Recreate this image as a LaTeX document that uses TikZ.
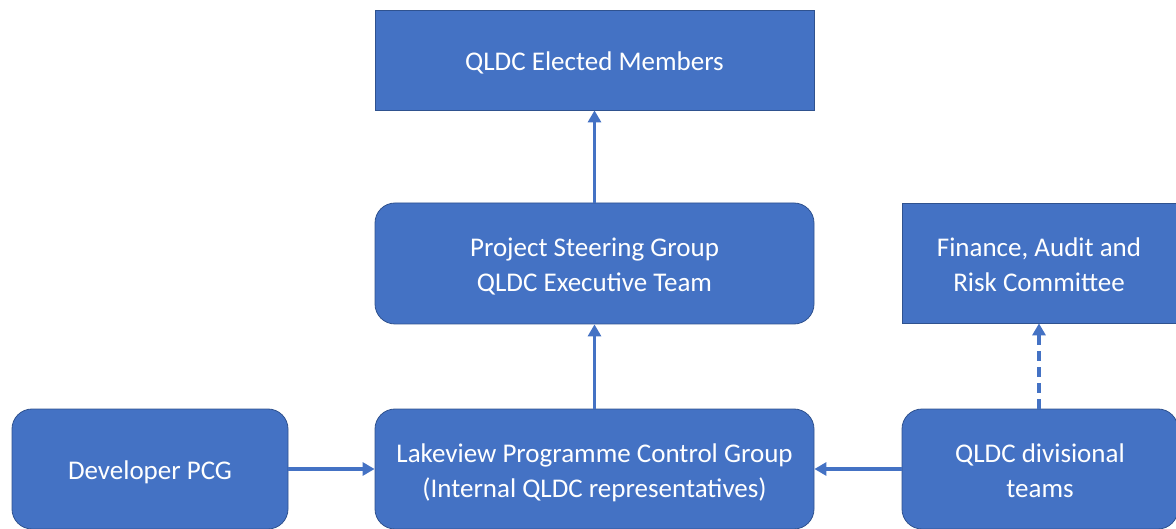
\documentclass[tikz,border=0pt]{standalone}
\usepackage{fontspec}
\setmainfont{Carlito}
\usetikzlibrary{arrows.meta}
\definecolor{boxblue}{HTML}{4472C4}
\definecolor{boxedge}{HTML}{2F528F}
\begin{document}
\begin{tikzpicture}[x=1pt,y=-1pt,
  box/.style={fill=boxblue,draw=boxedge,line width=0.8pt,inner sep=0pt},
  rbox/.style={box,rounded corners=20pt},
  txt/.style={text=white,align=center,inner sep=0pt,font=\fontsize{27}{35}\selectfont},
  arr/.style={draw=boxblue,line width=3.8pt,-{Triangle[length=12pt,width=13pt]}},
  darr/.style={arr,dash pattern=on 10pt off 6pt}]
\useasboundingbox (0,0) rectangle (1176,529);
\clip (0,0) rectangle (1176,529);
\node[box,minimum width=439pt,minimum height=100pt] (elected) at (594.5,60) {};
\node[rbox,minimum width=439pt,minimum height=121pt] (psg) at (594.5,263.5) {};
\node[box,minimum width=274pt,minimum height=120pt] (fin) at (1039,263) {};
\node[rbox,minimum width=276pt,minimum height=120pt] (dev) at (150,469) {};
\node[rbox,minimum width=439pt,minimum height=120pt] (lake) at (594.5,469) {};
\node[rbox,minimum width=276pt,minimum height=120pt] (div) at (1040,469) {};
\node[txt] (electedT) at ([yshift=-3pt]elected.center) {QLDC Elected Members};
\node[txt] (psgT) at ([yshift=-3pt]psg.center) {Project Steering Group\\QLDC Executive Team};
\node[txt] (finT) at ([yshift=-2pt]fin.center) {Finance, Audit and\\Risk Committee};
\node[txt] (devT) at ([yshift=-3pt]dev.center) {Developer PCG};
\node[txt] (lakeT) at ([yshift=-4pt]lake.center) {Lakeview Programme Control Group\\(Internal QLDC representatives)};
\node[txt] (divT) at ([yshift=-2pt]div.center) {QLDC divisional\\teams};
\draw[arr] (psg.north) -- (elected.south);
\draw[arr] (lake.north) -- (psg.south);
\draw[arr] (dev.east) -- (lake.west);
\draw[arr] (div.west) -- (lake.east);
\draw[darr] (div.north -| fin.south) -- (fin.south);
\end{tikzpicture}
\end{document}
